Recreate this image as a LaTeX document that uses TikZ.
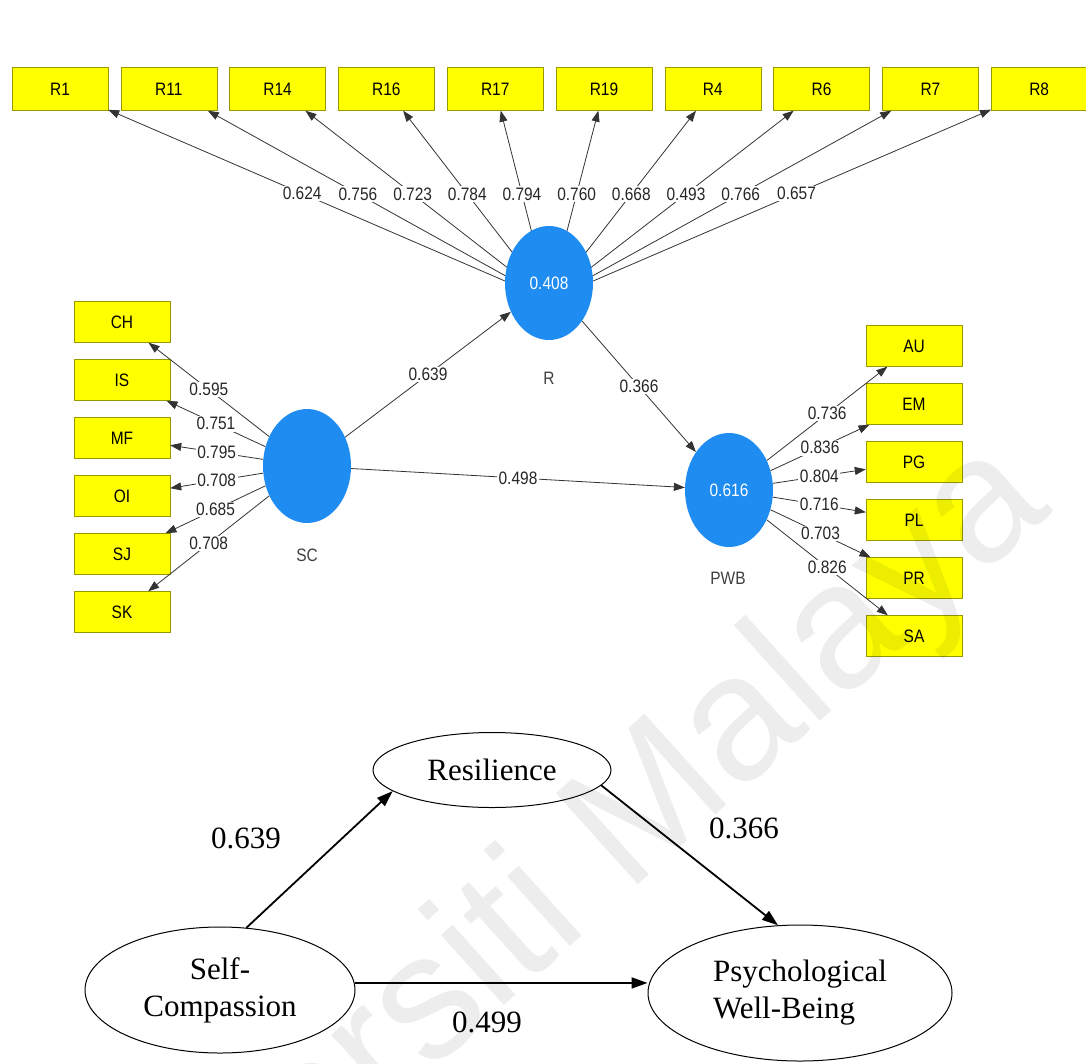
\documentclass[tikz,border=0pt]{standalone}
\usepackage{fontspec}
\setmainfont{Liberation Serif}
\newfontfamily\plsfont[FakeStretch=0.86]{Liberation Sans}
\newfontfamily\wmfont{Liberation Sans}
\usetikzlibrary{arrows.meta,shapes.geometric,positioning}
\definecolor{plsblue}{RGB}{30,140,240}
\definecolor{plsyellow}{RGB}{255,255,0}
\tikzset{
  ind/.style={rectangle, draw=plsyellow!60!black, fill=plsyellow, minimum width=96pt,
    minimum height=43pt, inner sep=0pt, font=\plsfont\fontsize{18}{20}\selectfont},
  lat/.style={ellipse, fill=plsblue, minimum width=88pt, minimum height=114pt,
    inner sep=0pt, text=white, font=\plsfont\fontsize{18}{20}\selectfont},
  latname/.style={text=black!75, font=\plsfont\fontsize{18}{20}\selectfont},
  loading/.style={draw=black!80, line width=0.8pt, -{Triangle[length=11pt,width=8pt]}},
  wt/.style={fill=white, inner sep=1.5pt, text=black!85, font=\plsfont\fontsize{18}{20}\selectfont},
  construct/.style={ellipse, draw, line width=1pt, inner sep=0pt, font=\fontsize{31}{37}\selectfont},
  effect/.style={draw, line width=1.8pt, -{Triangle[length=16pt,width=11pt]}},
  coef/.style={font=\fontsize{31}{37}\selectfont}
}
\begin{document}
\begin{tikzpicture}[x=1pt,y=-1pt]
  \useasboundingbox (0,0) rectangle (1086,1063);

  % PLS model
  \foreach \nm [count=\i from 0] in {R1,R11,R14,R16,R17,R19,R4,R6,R7,R8}
    \node[ind] (\nm) at (60+108.8*\i,89) {\nm};
  \foreach \nm [count=\i from 0] in {CH,IS,MF,OI,SJ,SK}
    \node[ind, minimum height=41pt] (\nm) at (122,322+58*\i) {\nm};
  \foreach \nm [count=\i from 0] in {AU,EM,PG,PL,PR,SA}
    \node[ind, minimum height=41pt] (\nm) at (914,346+58*\i) {\nm};

  % loadings of R meet a bit under its centre
  \coordinate (Rsrc) at (549,300);
  \foreach \nm/\w in {R1/0.624,R11/0.756,R14/0.723,R16/0.784,R17/0.794,
                      R19/0.760,R4/0.668,R6/0.493,R7/0.766,R8/0.657}
    \draw[loading] (Rsrc) -- node[wt, pos=0.56] {\w} (\nm);

  \node[lat] (R) at (549,283) {0.408};
  \node[lat] (SC) at (307,466) {};
  \node[lat] (PWB) at (729,490) {0.616};
  \node[latname] (Rname) at (549,378) {R};
  \node[latname] (SCname) at (307,555) {SC};
  \node[latname] (PWBname) at (728,578) {PWB};

  \foreach \nm/\w in {CH/0.595,IS/0.751,MF/0.795,OI/0.708,SJ/0.685,SK/0.708}
    \draw[loading] (SC) -- node[wt] {\w} (\nm);
  \foreach \nm/\w in {AU/0.736,EM/0.836,PG/0.804,PL/0.716,PR/0.703,SA/0.826}
    \draw[loading] (PWB) -- node[wt] {\w} (\nm);

  \draw[loading] (SC) -- node[wt] {0.639} (R);
  \draw[loading] (R) -- node[wt] {0.366} (PWB);
  \draw[loading] (SC) -- node[wt] {0.498} (PWB);

  % simplified model
  \node[construct, minimum width=238pt, minimum height=75pt] (Res) at (492,770) {Resilience};
  \node[construct, minimum width=270pt, minimum height=126pt, align=center] (SelfC) at (220,990) {Self-\\Compassion};
  \node[construct, minimum width=304pt, minimum height=136pt, align=left] (Wellb) at (800,993) {Psychological\\Well-Being};

  \draw[effect] (SelfC.67) -- (Res.192);
  \draw[effect] (Res.-8) -- (Wellb.108);
  \draw[effect] (SelfC.3) -- (SelfC.3 -| Wellb.west);

  \node[coef] (c1) at (246,838) {0.639};
  \node[coef] (c2) at (744,828) {0.366};
  \node[coef] (c3) at (487,1022) {0.499};

  % watermark
  \begin{scope}
    \clip (0,0) rectangle (1086,1063);
    \node[rotate=42, text=black, text opacity=0.07, font=\wmfont\fontsize{178}{178}\selectfont]
      (wm) at (520,930) {Universiti Malaya};
  \end{scope}
\end{tikzpicture}
\end{document}
